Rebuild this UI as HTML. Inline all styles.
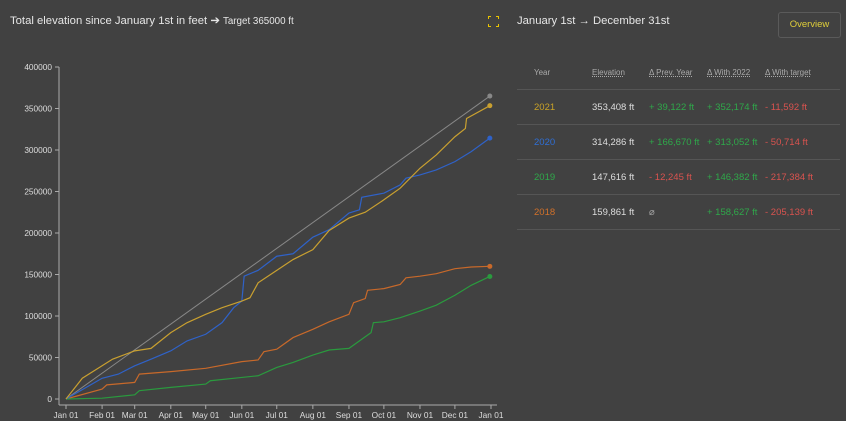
<!DOCTYPE html>
<html><head><meta charset="utf-8">
<style>
body{margin:0;width:846px;height:421px;background:#414141;overflow:hidden;font-family:"Liberation Sans",sans-serif;color:#ddd;position:relative}
.t{position:absolute;white-space:nowrap}
table{position:absolute;left:517px;top:55px;width:323px;border-collapse:collapse;font-size:9.5px;table-layout:fixed}
th{font-weight:normal;font-size:8px;color:#aaa;text-align:left;height:34px;border-bottom:1px solid #555;padding:0;white-space:nowrap}
th u{text-decoration:underline dotted}
td{height:34px;border-bottom:1px solid #555;padding:0;white-space:nowrap}
.g{color:#2fa84a}.r{color:#d9534f}
</style></head><body>
<div class="t" style="left:10px;top:14px;font-size:11.3px;color:#e6e6e6">Total elevation since January 1st in feet ➔ <span style="font-size:9.8px">Target 365000 ft</span></div>
<svg style="position:absolute;left:488px;top:16px" width="11" height="11"><path d="M0 3V0H3M8 0H11V3M11 8V11H8M3 11H0V8" fill="none" stroke="#e8c300" stroke-width="2"/></svg>
<div class="t" style="left:517px;top:15px;font-size:11.3px;color:#e6e6e6">January 1st → December 31st</div>
<div class="t" style="left:778px;top:12px;width:61px;height:24px;border:1px solid #5a5a5a;border-radius:3px;color:#e0cf3a;font-size:9.5px;text-align:center;line-height:24px">Overview</div>
<table>
<tr><th style="padding-left:17px;width:58px">Year</th><th style="width:57px"><u>Elevation</u></th><th style="width:58px"><u>Δ Prev. Year</u></th><th style="width:58px"><u>Δ With 2022</u></th><th><u>Δ With target</u></th></tr>
<tr><td style="padding-left:17px;color:#c9a227">2021</td><td>353,408 ft</td><td class="g">+ 39,122 ft</td><td class="g">+ 352,174 ft</td><td class="r">- 11,592 ft</td></tr>
<tr><td style="padding-left:17px;color:#2f6fd6">2020</td><td>314,286 ft</td><td class="g">+ 166,670 ft</td><td class="g">+ 313,052 ft</td><td class="r">- 50,714 ft</td></tr>
<tr><td style="padding-left:17px;color:#2fa84a">2019</td><td>147,616 ft</td><td class="r">- 12,245 ft</td><td class="g">+ 146,382 ft</td><td class="r">- 217,384 ft</td></tr>
<tr><td style="padding-left:17px;color:#d2712a">2018</td><td>159,861 ft</td><td style="color:#aaa">⌀</td><td class="g">+ 158,627 ft</td><td class="r">- 205,139 ft</td></tr>
</table>
<svg id="chart" style="position:absolute;left:0;top:0" width="510" height="421"></svg>
<script>
const yTicks=[0,50000,100000,150000,200000,250000,300000,350000,400000];
const xTickDays=[0,31,59,90,120,151,181,212,243,273,304,334,365];
const xTickLabels=["Jan 01","Feb 01","Mar 01","Apr 01","May 01","Jun 01","Jul 01","Aug 01","Sep 01","Oct 01","Nov 01","Dec 01","Jan 01"];
const targetDays=[0,364];
const targetVals=[0,365000];
const days2021=[0,14,31,40,59,73,90,104,120,134,151,158,165,181,195,212,226,243,257,273,287,304,318,334,343,344,364];
const vals2021=[0,25000,40000,48000,58000,61000,80000,92000,102000,110000,118000,122000,140000,155000,168000,180000,203000,218000,225000,240000,254000,278000,294000,316000,326000,338000,353408];
const days2020=[0,31,45,59,73,90,104,120,134,144,151,153,165,181,195,212,226,243,252,254,273,287,292,304,318,334,348,364];
const vals2020=[0,25000,30000,40000,48000,58000,70000,78000,92000,110000,118000,148000,155000,172000,175000,195000,204000,224000,228000,243000,248000,258000,266000,270000,276000,286000,298000,314286];
const days2019=[0,31,59,63,90,120,124,151,165,181,195,212,226,243,257,262,264,273,287,304,318,334,348,364];
const vals2019=[0,1000,5000,10000,14000,18000,22000,26000,28000,38000,44000,53000,59000,61000,75000,80000,92000,93000,98000,106000,113000,125000,137000,147616];
const days2018=[0,31,35,59,63,90,120,151,165,170,181,185,195,212,226,243,247,257,259,273,287,292,304,318,334,348,364];
const vals2018=[0,12000,17000,20000,30000,33000,37000,45000,47000,57000,60000,64000,74000,84000,93000,102000,116000,121000,131000,133000,138000,146000,148000,151000,157000,159000,159861];
const X=d=>66+d*(425/365), Y=v=>399-v*(332/400000);
const svg=document.getElementById('chart'), NS='http://www.w3.org/2000/svg';
function mk(t,a){const e=document.createElementNS(NS,t);for(const k in a)e.setAttribute(k,a[k]);svg.appendChild(e);return e;}
let e=mk('line',{x1:59,y1:Y(400000),x2:59,y2:405,stroke:'#aaa'});


e=mk('line',{x1:59,y1:405,x2:497,y2:405,stroke:'#aaa'});


yTicks.forEach(v=>{mk('line',{x1:55,x2:59,y1:Y(v),y2:Y(v),stroke:'#aaa'});
 const t=mk('text',{x:52,y:Y(v)+3,'text-anchor':'end','font-size':8.3,fill:'#ddd'});t.textContent=v;
 
 });
xTickDays.forEach((d,i)=>{mk('line',{x1:X(d),x2:X(d),y1:405,y2:409,stroke:'#aaa'});
 const t=mk('text',{x:X(d),y:418,'text-anchor':'middle','font-size':8.3,fill:'#ddd'});t.textContent=xTickLabels[i];
 
 });
const yr=mk('text',{x:X(0),y:427,'text-anchor':'middle','font-size':8.3,fill:'#ddd'});yr.textContent='2022';
function series(ds,vs,c,name,w){const p=mk('polyline',{points:ds.map((d,i)=>X(d)+','+Y(vs[i])).join(' '),fill:'none',stroke:c,'stroke-width':w});
 
 
 const n=ds.length-1;const c2=mk('circle',{cx:X(ds[n]),cy:Y(vs[n]),r:2.5,fill:c});
 
 }
series(targetDays,targetVals,'#888','target-line',1);
series(days2018,vals2018,'#c8692a','line-2018',1.2);
series(days2019,vals2019,'#2a9a3e','line-2019',1.2);
series(days2020,vals2020,'#2f62c8','line-2020',1.2);
series(days2021,vals2021,'#c9a030','line-2021',1.2);
</script>
</body></html>
